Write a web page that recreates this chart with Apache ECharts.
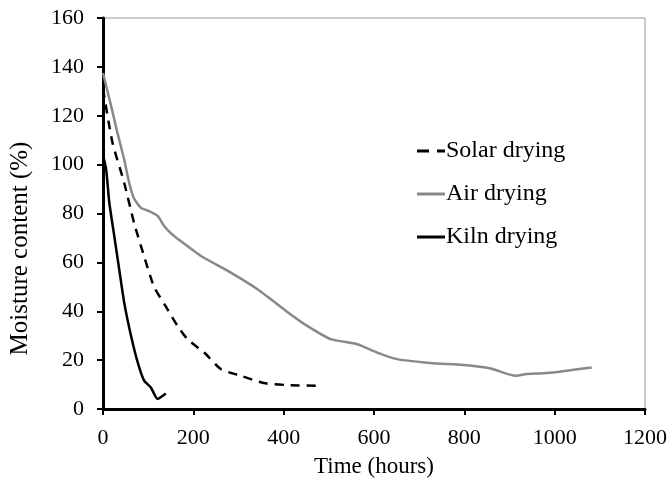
<!DOCTYPE html>
<html><head><meta charset="utf-8">
<script src="https://cdn.jsdelivr.net/npm/echarts@6/dist/echarts.min.js"></script>
<style>html,body{margin:0;padding:0;background:#fff}#c{width:670px;height:483px}</style>
</head><body><div id="c"></div>
<script>
const solarX = [0, 21, 47, 69, 91, 113, 139, 165, 187, 224, 261, 305, 356, 408, 482];
const solarY = [131, 109, 92.5, 76, 62.5, 50, 42, 34, 28.6, 23.1, 16.3, 13.6, 10.6, 9.8, 9.5];
const airX = [0, 18, 32, 47, 58, 69, 84, 102, 121, 135, 150, 172, 217, 283, 342, 415, 452, 504, 563, 607, 651, 725, 798, 858, 913, 938, 983, 1082];
const airY = [137.5, 124, 113, 102, 92.5, 86, 82.3, 81, 79, 75, 72, 68.7, 62.6, 55.8, 49, 38.8, 34, 28.6, 26.5, 23.1, 20.4, 18.8, 18, 16.6, 13.6, 14.3, 14.7, 17];
const kilnX = [0, 7, 14, 25, 36, 47, 62, 77, 91, 106, 121, 139];
const kilnY = [104, 98, 84.4, 70.7, 57, 43.5, 30, 19, 11.6, 8.8, 4.1, 6.3];
const seriesNames = ['Solar drying', 'Air drying', 'Kiln drying'];
const xTitle = 'Time (hours)';
const yTitle = 'Moisture content (%)';

const zip = (xs, ys) => xs.map((x, i) => [x, ys[i]]);
const font = 'Liberation Serif';
const solidIcon = 'path://M0,0h28v3h-28z';
const dashIcon = 'path://M0,0h12v3h-12zM20,0h8v3h-8z';
const chart = echarts.init(document.getElementById('c'), null, {renderer: 'canvas'});
chart.setOption({
  animation: false,
  backgroundColor: '#fff',
  grid: {left: 102, right: 25, top: 18, bottom: 73, show: true, borderColor: '#999', borderWidth: 1},
  legend: {
    orient: 'vertical', left: 412, top: 134, itemGap: 19, itemWidth: 28, itemHeight: 3,
    textStyle: {fontFamily: font, fontSize: 24, color: '#000', padding: [0, 0, 0, -4]},
    data: [
      {name: seriesNames[0], icon: dashIcon},
      {name: seriesNames[1], icon: solidIcon},
      {name: seriesNames[2], icon: solidIcon}
    ]
  },
  xAxis: {
    type: 'value', min: 0, max: 1200, interval: 200,
    name: xTitle, nameLocation: 'middle', nameGap: 46,
    nameTextStyle: {fontFamily: font, fontSize: 23, color: '#000'},
    axisLine: {lineStyle: {color: '#000', width: 3}},
    axisTick: {show: true, inside: false, length: 6, lineStyle: {color: '#000', width: 2}},
    axisLabel: {fontFamily: font, fontSize: 22, color: '#000', margin: 18, formatter: v => String(v)},
    splitLine: {show: false}
  },
  yAxis: {
    type: 'value', min: 0, max: 160, interval: 20,
    name: yTitle, nameLocation: 'middle', nameGap: 70,
    nameTextStyle: {fontFamily: font, fontSize: 25, color: '#000', padding: [0, 70, 0, 0]},
    axisLine: {show: true, lineStyle: {color: '#000', width: 3}},
    axisTick: {show: true, inside: false, length: 6, lineStyle: {color: '#000', width: 2}},
    axisLabel: {fontFamily: font, fontSize: 22, color: '#000', margin: 19, formatter: v => String(v)},
    splitLine: {show: false}
  },
  series: [
    {name: seriesNames[0], type: 'line', smooth: 0.2, showSymbol: false, symbol: 'none',
     data: zip(solarX, solarY), color: '#000',
     lineStyle: {color: '#000', width: 2.5, type: [9, 7]}},
    {name: seriesNames[1], type: 'line', smooth: 0.2, showSymbol: false, symbol: 'none',
     data: zip(airX, airY), color: '#888',
     lineStyle: {color: '#888', width: 2.5}},
    {name: seriesNames[2], type: 'line', smooth: 0.2, showSymbol: false, symbol: 'none',
     data: zip(kilnX, kilnY), color: '#000',
     lineStyle: {color: '#000', width: 2.5}}
  ]
});
</script></body></html>
